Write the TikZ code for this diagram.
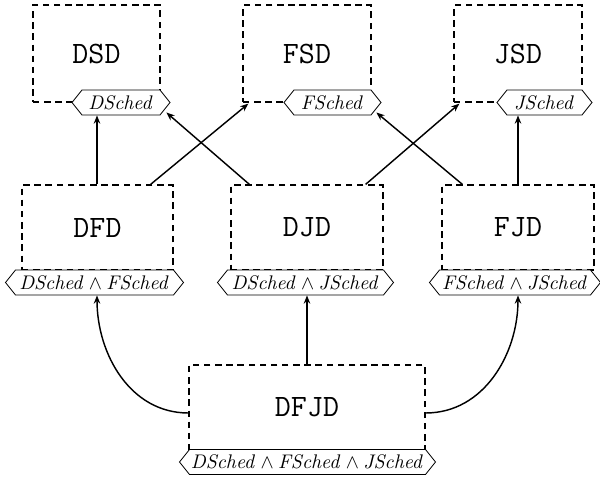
\documentclass[tikz,border=0pt]{standalone}
\usetikzlibrary{arrows.meta,calc}
\def\px{0.5556pt}
\tikzset{
  sbox/.style={draw, line width=0.7pt, dash pattern=on 3.6pt off 2.6pt, rectangle, inner sep=0pt, font=\LARGE\ttfamily},
  hexline/.style={draw, line width=0.45pt, fill=white, line join=miter},
  labtext/.style={rectangle, inner sep=0pt, minimum height=25*\px, font=\fontsize{10.5}{12}\selectfont},
  arr/.style={line width=0.8pt, -{Stealth[length=4.6pt,width=3.6pt]}}
}
% name, x, y, half flat width, text
\newcommand\hexlab[5]{%
  \path[hexline] ({#2-#4},{#3-12.5}) -- ({#2+#4},{#3-12.5}) -- ({#2+#4+10},#3)
    -- ({#2+#4},{#3+12.5}) -- ({#2-#4},{#3+12.5}) -- ({#2-#4-10},#3) -- cycle;
  \node[labtext, minimum width=2*#4*\px] (#1) at (#2,#3) {#5};}
\begin{document}
\begin{tikzpicture}[x=0.5556pt,y=-0.5556pt]
\useasboundingbox (0,0) rectangle (600,482);
% top row
\node[sbox, minimum width=127*\px, minimum height=97*\px] (DSD) at (96.5,53.5) {DSD};
\node[sbox, minimum width=128*\px, minimum height=97*\px] (FSD) at (307,53.5) {FSD};
\node[sbox, minimum width=128*\px, minimum height=97*\px] (JSD) at (518,53.5) {JSD};
\hexlab{DSDl}{121}{102.5}{39}{$\mathit{DSched}$}
\hexlab{FSDl}{332.5}{102.5}{38.5}{$\mathit{FSched}$}
\hexlab{JSDl}{544.5}{102.5}{37.5}{$\mathit{JSched}$}
% middle row
\node[sbox, minimum width=151*\px, minimum height=85*\px] (DFD) at (97.5,227.5) {DFD};
\node[sbox, minimum width=152*\px, minimum height=85*\px] (DJD) at (307,227.5) {DJD};
\node[sbox, minimum width=152*\px, minimum height=85*\px] (FJD) at (518,227.5) {FJD};
\hexlab{DFDl}{94.5}{282.5}{79}{$\mathit{DSched}\wedge\mathit{FSched}$}
\hexlab{DJDl}{305.5}{282.5}{78}{$\mathit{DSched}\wedge\mathit{JSched}$}
\hexlab{FJDl}{515}{282.5}{75.5}{$\mathit{FSched}\wedge\mathit{JSched}$}
% bottom
\node[sbox, minimum width=236*\px, minimum height=85*\px] (DFJD) at (307,407.5) {DFJD};
\hexlab{DFJDl}{307.5}{462}{118}{$\mathit{DSched}\wedge\mathit{FSched}\wedge\mathit{JSched}$}
% connectors
\draw[arr] ($(DFD.north)+(-0.5,0)$) -- ($(DFD.north |- DSDl.south)+(-0.5,0)$);
\draw[arr] ($(DFD.north east)+(-23,0)$) -- ($(FSD.south west)+(6,1)$);
\draw[arr] ($(DJD.north west)+(19,0)$) -- ($(DSDl.east)+(6,10)$);
\draw[arr] ($(DJD.north east)+(-18,0)$) -- ($(JSD.south west)+(6,1)$);
\draw[arr] ($(FJD.north west)+(21,0)$) -- ($(FSDl.east)+(5,10)$);
\draw[arr] (FJD.north) -- (FJD.north |- JSDl.south);
\draw[arr] (DFJD.north) -- (DFJD.north |- DJDl.south);
\draw[arr] ($(DFJD.west)+(0,5.5)$) to[out=180,in=-90] ($(DFD.south |- DFDl.south)+(-0.5,0)$);
\draw[arr] ($(DFJD.east)+(0,5.5)$) to[out=0,in=-90] (FJD.south |- FJDl.south);
\end{tikzpicture}
\end{document}
